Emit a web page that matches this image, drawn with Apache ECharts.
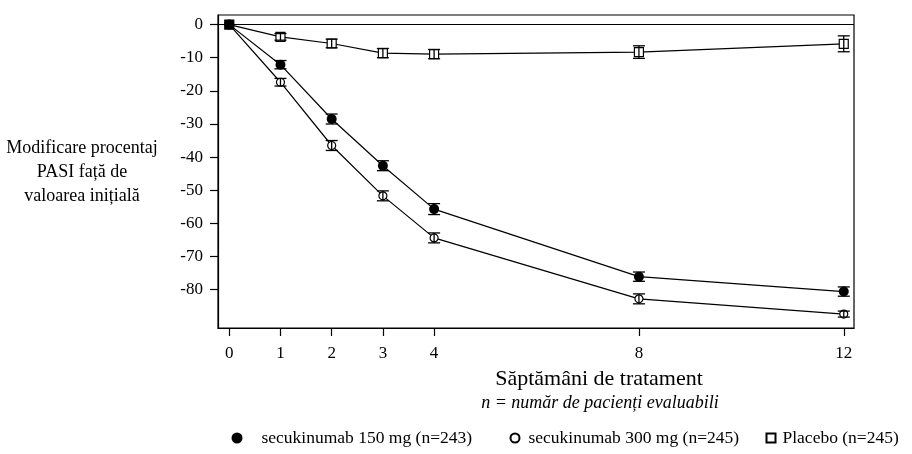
<!DOCTYPE html>
<html>
<head>
<meta charset="utf-8">
<script src="https://cdn.jsdelivr.net/npm/echarts@6.0.0/dist/echarts.min.js"></script>
<style>
  html, body { margin: 0; padding: 0; background: #fff; }
  #chart { width: 912px; height: 454px; }
</style>
</head>
<body>
<div id="chart"></div>
<script>
// Modificare procentuala PASI pe saptamani
var weeks = [0, 1, 2, 3, 4, 8, 12];
var xTicks = [0, 1, 2, 3, 4, 8, 12];
var yTicks = [0, -10, -20, -30, -40, -50, -60, -70, -80];

var s150 = [0, -12.1, -28.5, -42.6, -55.7, -76.1, -80.6];
var s150Err = [0, 1.25, 1.5, 1.5, 1.65, 1.4, 1.4];
var s300 = [0, -17.4, -36.5, -51.7, -64.4, -82.8, -87.4];
var s300Err = [0, 1.15, 1.5, 1.5, 1.5, 1.5, 0.9];
var placebo = [0, -3.7, -5.7, -8.6, -8.9, -8.3, -5.8];
var placeboErr = [0, 1.0, 1.3, 1.4, 1.4, 1.9, 2.4];

var names = ['secukinumab 150 mg (n=243)', 'secukinumab 300 mg (n=245)', 'Placebo (n=245)'];

var font = 'Liberation Serif';

function pts(vals) {
  return weeks.map(function(w, i) { return [w, vals[i]]; });
}
function errPts(vals, errs) {
  return weeks.map(function(w, i) { return [w, vals[i], errs[i]]; });
}

function errorBars(data, capHalf) {
  return {
    type: 'custom',
    silent: true,
    z: 5,
    data: data,
    renderItem: function(params, api) {
      var x = api.value(0), y = api.value(1), e = api.value(2);
      if (!e) return null;
      var hi = api.coord([x, y + e]);
      var lo = api.coord([x, y - e]);
      var st = { stroke: '#000', lineWidth: 1.3 };
      return {
        type: 'group',
        children: [
          { type: 'line', shape: { x1: hi[0], y1: hi[1], x2: lo[0], y2: lo[1] }, style: st },
          { type: 'line', shape: { x1: hi[0] - capHalf, y1: hi[1], x2: hi[0] + capHalf, y2: hi[1] }, style: st },
          { type: 'line', shape: { x1: lo[0] - capHalf, y1: lo[1], x2: lo[0] + capHalf, y2: lo[1] }, style: st }
        ]
      };
    }
  };
}

function legendItem(name, left, size, gap, style) {
  return {
    left: left, top: 424,
    itemWidth: size, itemHeight: size,
    textStyle: { fontSize: 17.5, fontFamily: font, color: '#000', padding: [0, 0, 0, gap] },
    data: [{ name: name, icon: style.icon, itemStyle: style.itemStyle }]
  };
}

var placeboData = pts(placebo);
placeboData[0] = { value: placeboData[0], itemStyle: { color: '#000' } };

var chart = echarts.init(document.getElementById('chart'), null, { renderer: 'canvas' });
chart.setOption({
  animation: false,
  textStyle: { fontFamily: font, color: '#000' },
  grid: { left: 218, right: 58, top: 15, bottom: 126, show: true, borderColor: '#000', borderWidth: 1.2 },
  xAxis: {
    type: 'value',
    min: -0.22,
    max: 12.2,
    axisLine: { show: true, onZero: false, lineStyle: { color: '#000', width: 1.2 } },
    axisTick: { show: true, length: 8, customValues: xTicks, lineStyle: { color: '#000', width: 1.2 } },
    axisLabel: { customValues: xTicks, margin: 17, fontSize: 17, color: '#000', fontFamily: font },
    splitLine: { show: false }
  },
  yAxis: {
    type: 'value',
    min: -91.6,
    max: 2.9,
    axisLine: { show: true, onZero: false, lineStyle: { color: '#000', width: 1.2 } },
    axisTick: { show: true, length: 8, customValues: yTicks, lineStyle: { color: '#000', width: 1.2 } },
    axisLabel: { customValues: yTicks, margin: 15, fontSize: 17, color: '#000', fontFamily: font },
    splitLine: { show: false }
  },
  legend: [
    legendItem(names[0], 226.5, 11, 14, { icon: 'circle', itemStyle: { color: '#000', borderWidth: 0 } }),
    legendItem(names[1], 504.5, 9, 4, { icon: 'circle', itemStyle: { color: '#fff', borderColor: '#000', borderWidth: 2 } }),
    legendItem(names[2], 760.5, 9, 2, { icon: 'rect', itemStyle: { color: '#fff', borderColor: '#000', borderWidth: 2 } })
  ],
  title: [
    { text: 'Săptămâni de tratament', left: 594, top: 363, textAlign: 'center',
      textStyle: { fontSize: 22, fontWeight: 'normal', fontFamily: font, color: '#000' } },
    { text: 'n = număr de pacienți evaluabili', left: 595, top: 389, textAlign: 'center',
      textStyle: { fontSize: 18, fontWeight: 'normal', fontStyle: 'italic', fontFamily: font, color: '#000' } }
  ],
  graphic: [{
    type: 'text',
    x: 82,
    y: 172,
    style: {
      text: 'Modificare procentaj\nPASI față de\nvaloarea inițială',
      align: 'center',
      verticalAlign: 'middle',
      lineHeight: 24,
      fontSize: 18,
      fontFamily: font,
      fill: '#000'
    }
  }],
  series: [
    {
      name: names[0], type: 'line', data: pts(s150), z: 3,
      symbol: 'circle', symbolSize: 10,
      lineStyle: { color: '#000', width: 1.2 },
      itemStyle: { color: '#000' },
      markLine: {
        silent: true, symbol: 'none', label: { show: false },
        lineStyle: { color: '#000', width: 1.2, type: 'solid' },
        data: [{ yAxis: 0 }]
      }
    },
    {
      name: names[1], type: 'line', data: pts(s300), z: 3,
      symbol: 'circle', symbolSize: 8,
      lineStyle: { color: '#000', width: 1.2 },
      itemStyle: { color: '#fff', borderColor: '#000', borderWidth: 1.2 }
    },
    {
      name: names[2], type: 'line', data: placeboData, z: 3,
      symbol: 'rect', symbolSize: 9,
      lineStyle: { color: '#000', width: 1.2 },
      itemStyle: { color: '#fff', borderColor: '#000', borderWidth: 1.2 }
    },
    errorBars(errPts(s150, s150Err), 6),
    errorBars(errPts(s300, s300Err), 6),
    errorBars(errPts(placebo, placeboErr), 6)
  ]
});
window.addEventListener('resize', function() { chart.resize(); });
</script>
</body>
</html>
